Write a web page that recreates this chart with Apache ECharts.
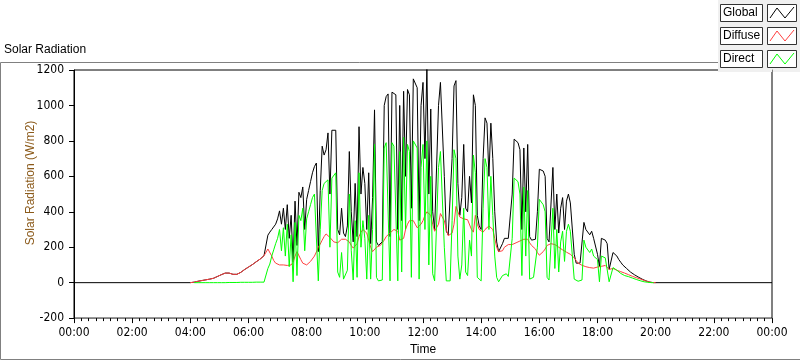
<!DOCTYPE html>
<html>
<head>
<meta charset="utf-8">
<script src="https://cdn.jsdelivr.net/npm/echarts@6/dist/echarts.min.js"></script>
<style>
  html, body { margin: 0; padding: 0; background: #fff; }
  #chart { width: 800px; height: 361px; }
</style>
</head>
<body>
<div id="chart"></div>
<script>
// samples every 4 minutes, 04:00 -> 20:00 (one row per hour)
const startMin = 240;
const stepMin = 4;

const globalVals = [
  0, 1, 3, 5, 8, 10, 12, 14, 16, 18, 20, 22, 25, 30, 35,
  40, 45, 50, 54, 55, 54, 50, 47, 46, 47, 50, 58, 66, 74, 82,
  88, 95, 102, 110, 118, 125, 133, 143, 152, 160, 268, 285, 300, 310, 330,
  360, 405, 330, 420, 300, 440, 250, 380, 117, 460, 210, 510, 480, 540, 300,
  470, 520, 570, 620, 655, 675, 175, 520, 770, 720, 750, 845, 500, 860, 870,
  860, 300, 270, 420, 280, 260, 320, 740, 400, 230, 560, 260, 880, 500, 650,
  560, 300, 620, 220, 480, 975, 230, 210, 210, 230, 1000, 1050, 1065, 260, 1075,
  1070, 1060, 300, 1000, 350, 1080, 600, 1090, 1060, 420, 1150, 1140, 1100, 350, 1000,
  1130, 700, 1210, 500, 980, 400, 300, 290, 1000, 1130, 1120, 600, 290, 270, 280,
  700, 1110, 1140, 560, 380, 480, 780, 420, 400, 600, 450, 1060, 1000, 380, 320,
  300, 700, 930, 900, 600, 900, 700, 400, 230, 175, 180, 220, 250, 260, 250,
  260, 500, 810, 800, 790, 750, 300, 760, 400, 780, 260, 240, 250, 245, 400,
  640, 650, 630, 600, 250, 230, 240, 650, 300, 500, 280, 420, 480, 300, 460,
  500, 450, 460, 160, 110, 105, 110, 115, 340, 300, 310, 270, 290, 250, 240,
  160, 90, 250, 245, 240, 220, 75, 80, 170, 160, 150, 130, 115, 100, 90,
  80, 70, 60, 52, 45, 38, 32, 26, 20, 15, 10, 6, 3, 1, 0,
  0
];

const diffuseVals = [
  0, 1, 3, 5, 8, 10, 12, 14, 16, 18, 20, 22, 25, 30, 35,
  40, 45, 50, 54, 55, 54, 50, 47, 46, 47, 50, 58, 66, 74, 82,
  88, 95, 102, 110, 118, 125, 133, 143, 152, 160, 190, 180, 150, 125, 110,
  105, 100, 98, 100, 98, 97, 96, 100, 115, 150, 175, 165, 130, 110, 105,
  100, 110, 120, 125, 150, 173, 200, 218, 240, 260, 275, 270, 255, 245, 230,
  230, 225, 235, 245, 250, 245, 240, 230, 210, 195, 200, 220, 260, 285, 300,
  300, 280, 240, 200, 175, 180, 200, 210, 210, 215, 240, 260, 265, 280, 290,
  300, 305, 290, 240, 230, 250, 300, 330, 350, 360, 350, 330, 310, 300, 330,
  350, 380, 400, 390, 380, 330, 290, 285, 330, 390, 395, 350, 300, 265, 270,
  280, 330, 430, 400, 370, 360, 360, 350, 355, 360, 300, 285, 380, 330, 300,
  290, 285, 300, 310, 320, 320, 300, 250, 200, 175, 170, 180, 200, 210, 215,
  212, 215, 220, 225, 230, 235, 240, 245, 250, 245, 225, 210, 205, 190, 170,
  155, 160, 175, 190, 210, 215, 220, 225, 215, 205, 200, 195, 185, 180, 172,
  170, 160, 150, 140, 125, 110, 100, 98, 95, 90, 88, 85, 83, 82, 85,
  88, 90, 92, 95, 97, 99, 75, 78, 80, 75, 70, 66, 62, 58, 54,
  50, 45, 40, 36, 32, 28, 25, 21, 17, 13, 9, 6, 3, 1, 0,
  0
];

const directVals = [
  null, null, 0, 0, 0, 0, 0, 0, 0, 0, 0, 0, 0, 0, 0,
  0, 0, 0, 0, 0, 1, 1, 1, 1, 1, 1, 2, 2, 2, 2,
  2, 2, 2, 2, 3, 3, 3, 3, 3, 3, 80, 105, 150, 185, 220,
  250, 300, 180, 310, 150, 330, 90, 270, 5, 340, 40, 380, 350, 420, 180,
  360, 400, 440, 480, 500, 490, 10, 300, 520, 560, 560, 580, 200, 590, 600,
  620, 60, 30, 170, 20, 10, 70, 500, 180, 15, 350, 30, 620, 200, 350,
  250, 20, 380, 20, 300, 780, 30, 10, 10, 15, 760, 790, 800, 10, 790,
  770, 760, 10, 740, 60, 820, 300, 780, 740, 30, 800, 790, 760, 20, 650,
  780, 300, 800, 100, 600, 50, 10, 5, 650, 740, 730, 200, 10, 5, 10,
  350, 750, 700, 150, 20, 100, 420, 60, 40, 240, 150, 720, 620, 30, 20,
  10, 420, 700, 650, 300, 600, 380, 150, 30, 5, 10, 40, 50, 50, 35,
  30, 250, 590, 580, 570, 500, 40, 540, 150, 520, 20, 15, 30, 20, 200,
  470, 480, 440, 400, 30, 15, 20, 420, 80, 300, 60, 230, 290, 120, 290,
  330, 290, 300, 20, 10, 8, 10, 15, 240, 200, 210, 170, 190, 150, 140,
  130, 5, 150, 145, 140, 130, 5, 5, 85, 80, 70, 60, 52, 45, 40,
  38, 34, 30, 26, 22, 18, 14, 11, 8, 5, 3, 2, 1, 0, 0,
  null
];

const xTickLabels = ['00:00', '02:00', '04:00', '06:00', '08:00', '10:00', '12:00',
  '14:00', '16:00', '18:00', '20:00', '22:00', '00:00'];
const seriesNames = ['Global', 'Diffuse', 'Direct'];
const seriesColors = ['#000000', '#ff4040', '#00ff00'];

const uiFont = '"Liberation Sans", Arial, sans-serif';
const tickFont = '"Liberation Sans Narrow", "DejaVu Sans Condensed", "Liberation Sans", sans-serif';

function toPoints(vals, padNight) {
  let pts = [];
  if (padNight) pts.push([0, 0]);
  vals.forEach((v, i) => {
    if (v !== null) pts.push([startMin + i * stepMin, v]);
  });
  if (padNight) pts.push([1440, 0]);
  return pts;
}

const chart = echarts.init(document.getElementById('chart'));

// legend boxes (LabVIEW style plot legend)
let legendItems = [];
seriesNames.forEach((name, i) => {
  let top = 4 + i * 23;
  legendItems.push({
    type: 'rect', shape: { x: 720.5, y: top + 0.5, width: 42, height: 17 },
    style: { fill: '#fff', stroke: '#333', lineWidth: 1 }
  });
  legendItems.push({
    type: 'text', x: 723, y: top + 9,
    style: { text: name, font: '12px ' + uiFont, fill: '#000', verticalAlign: 'middle' }
  });
  legendItems.push({
    type: 'rect', shape: { x: 767.5, y: top + 0.5, width: 29, height: 17 },
    style: { fill: '#fff', stroke: '#333', lineWidth: 1 }
  });
  legendItems.push({
    type: 'polyline',
    shape: { points: [[770, top + 14], [777, top + 4], [785, top + 14], [794, top + 3]] },
    style: { stroke: seriesColors[i], lineWidth: 1, fill: null }
  });
});

const option = {
  animation: false,
  grid: {
    left: 74, right: 28, top: 70, bottom: 39,
    show: true, borderColor: '#000', borderWidth: 1, backgroundColor: '#fff'
  },
  xAxis: {
    type: 'value', min: 0, max: 1440, interval: 120,
    name: 'Time', nameLocation: 'middle', nameGap: 25,
    nameTextStyle: { color: '#000', fontSize: 12, fontFamily: uiFont },
    axisLine: { onZero: false, lineStyle: { color: '#808080' } },
    axisTick: { show: true, length: 5, lineStyle: { color: '#000' } },
    minorTick: { show: true, splitNumber: 8, length: 3, lineStyle: { color: '#000' } },
    axisLabel: {
      margin: 9, color: '#000', fontSize: 12, fontFamily: tickFont,
      formatter: v => xTickLabels[Math.round(v / 120)]
    },
    splitLine: { show: false }
  },
  yAxis: [{
    type: 'value', min: -200, max: 1200, interval: 200,
    axisLine: { show: true, onZero: false, lineStyle: { color: '#000' } },
    axisTick: { show: true, length: 5, lineStyle: { color: '#000' } },
    axisLabel: {
      margin: 10, color: '#000', fontSize: 12, fontFamily: tickFont,
      formatter: v => String(v)
    },
    splitLine: { show: false }
  }, {
    type: 'value', min: -200, max: 1200, interval: 200, position: 'right',
    axisLine: { show: true, onZero: false, lineStyle: { color: '#808080' } },
    axisTick: { show: false }, axisLabel: { show: false }, splitLine: { show: false }
  }],
  graphic: [
    {
      type: 'polyline', silent: true,
      shape: { points: [[718, 62.5], [0.5, 62.5], [0.5, 359.5], [800, 359.5]] },
      style: { stroke: '#808080', lineWidth: 1, fill: null }
    },
    {
      type: 'text', x: 4, y: 50,
      style: { text: 'Solar Radiation', font: '12px ' + uiFont, fill: '#000', verticalAlign: 'middle' }
    },
    {
      type: 'text', x: 31, y: 183, rotation: Math.PI / 2,
      style: {
        text: 'Solar Radiation (W/m2)', font: '12px ' + uiFont, fill: '#8b5a1a',
        align: 'center', verticalAlign: 'middle'
      }
    },
    {
      type: 'rect', shape: { x: 718, y: 0, width: 82, height: 72 },
      style: { fill: '#f0f0f0' }
    },
    { type: 'group', children: legendItems }
  ],
  series: [
    {
      name: seriesNames[0], type: 'line', data: toPoints(globalVals, true),
      showSymbol: false, lineStyle: { width: 1, color: seriesColors[0] }, z: 2
    },
    {
      name: seriesNames[1], type: 'line', data: toPoints(diffuseVals, false),
      showSymbol: false, lineStyle: { width: 1, color: seriesColors[1] }, z: 3
    },
    {
      name: seriesNames[2], type: 'line', data: toPoints(directVals, false),
      showSymbol: false, lineStyle: { width: 1, color: seriesColors[2] }, z: 4
    }
  ]
};

chart.setOption(option);
</script>
</body>
</html>
